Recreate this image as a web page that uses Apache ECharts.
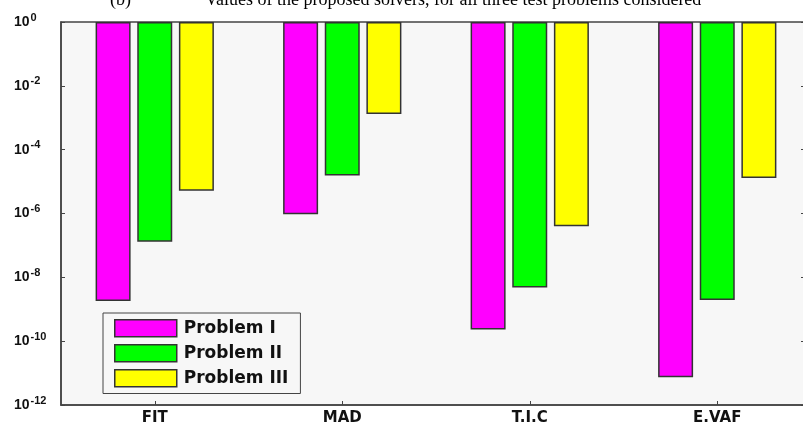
<!DOCTYPE html>
<html>
<head>
<meta charset="utf-8">
<script src="https://cdn.jsdelivr.net/npm/echarts@6/dist/echarts.min.js"></script>
<style>
html,body{margin:0;padding:0;background:#fff;}
#c{width:803px;height:431px;}
</style>
</head>
<body>
<div id="c"></div>
<script>
var categories = ['FIT', 'MAD', 'T.I.C', 'E.VAF'];
var seriesNames = ['Problem I', 'Problem II', 'Problem III'];
var problem1 = [1.8e-9, 9.5e-7, 2.3e-10, 7.4e-12];
var problem2 = [1.3e-7, 1.55e-5, 4.8e-9, 1.95e-9];
var problem3 = [5.2e-6, 1.3e-3, 4.0e-7, 1.3e-5];
var colors = ['#ff00ff', '#00ff00', '#ffff00'];
var yMin = 1e-12, yMax = 1;

var chart = echarts.init(document.getElementById('c'), null, {renderer: 'canvas'});
var dataSets = [problem1, problem2, problem3];

function expLabel(v) {
  var e = Math.round(Math.log10(v));
  return '{b|10}{s|' + e + '}';
}
var richStyle = {
  b: {fontFamily: 'Liberation Sans', fontWeight: 'bold', fontSize: 14, color: '#111'},
  s: {fontFamily: 'Liberation Sans', fontWeight: 'bold', fontSize: 11, color: '#111', verticalAlign: 'top', padding: [0, 0, 9, 1]}
};

var option = {
  animation: false,
  backgroundColor: '#ffffff',
  graphic: [
    {type: 'text', left: 110, top: -9, style: {text: '(b)', font: '18px "Liberation Serif"', fill: '#000'}},
    {type: 'text', left: 205, top: -9, style: {text: 'Values of the proposed solvers, for all three test problems considered', font: '18px "Liberation Serif"', fill: '#000'}}
  ],
  grid: {
    left: 61, width: 750, top: 22, bottom: 26,
    show: true, backgroundColor: '#f7f7f7', borderColor: '#444', borderWidth: 1.5,
    containLabel: false,
    outerBoundsMode: 'none'
  },
  legend: {
    orient: 'vertical',
    left: 103, top: 313,
    padding: [6, 12, 6, 11],
    itemWidth: 62, itemHeight: 17, itemGap: 6.5,
    borderColor: '#444', borderWidth: 1, backgroundColor: '#f7f7f7',
    icon: 'rect',
    itemStyle: {borderColor: '#333', borderWidth: 1.5},
    textStyle: {fontFamily: 'DejaVu Sans', fontWeight: 'bold', fontSize: 17, color: '#111', padding: [0, 0, 0, 2]},
    data: seriesNames
  },
  xAxis: {
    type: 'category',
    data: categories,
    axisLine: {lineStyle: {color: '#444', width: 1.5}},
    axisTick: {show: true, inside: true, alignWithLabel: true, length: 4, lineStyle: {color: '#444'}},
    axisLabel: {fontFamily: 'DejaVu Sans', fontWeight: 'bold', fontSize: 15, color: '#111', margin: 6},
    splitLine: {show: false}
  },
  yAxis: [
    {
      type: 'log', logBase: 10, min: yMin, max: yMax, interval: 2,
      axisLine: {show: true, lineStyle: {color: '#444', width: 1.5}},
      axisTick: {show: true, inside: true, length: 4, lineStyle: {color: '#444'}},
      axisLabel: {formatter: expLabel, rich: richStyle, align: 'left', margin: 47},
      splitLine: {show: false},
      minorTick: {show: false}
    },
    {
      type: 'log', logBase: 10, min: yMin, max: yMax, interval: 2, position: 'right',
      axisLine: {show: true, lineStyle: {color: '#444', width: 1.5}},
      axisTick: {show: true, inside: true, length: 10, lineStyle: {color: '#444'}},
      axisLabel: {show: false},
      splitLine: {show: false}
    }
  ],
  series: seriesNames.map(function (name, i) {
    return {
      name: name,
      type: 'bar',
      data: dataSets[i],
      barWidth: 35,
      barGap: '19%',
      itemStyle: {color: colors[i], borderColor: '#333', borderWidth: 1.5}
    };
  })
};
chart.setOption(option);
</script>
</body>
</html>
